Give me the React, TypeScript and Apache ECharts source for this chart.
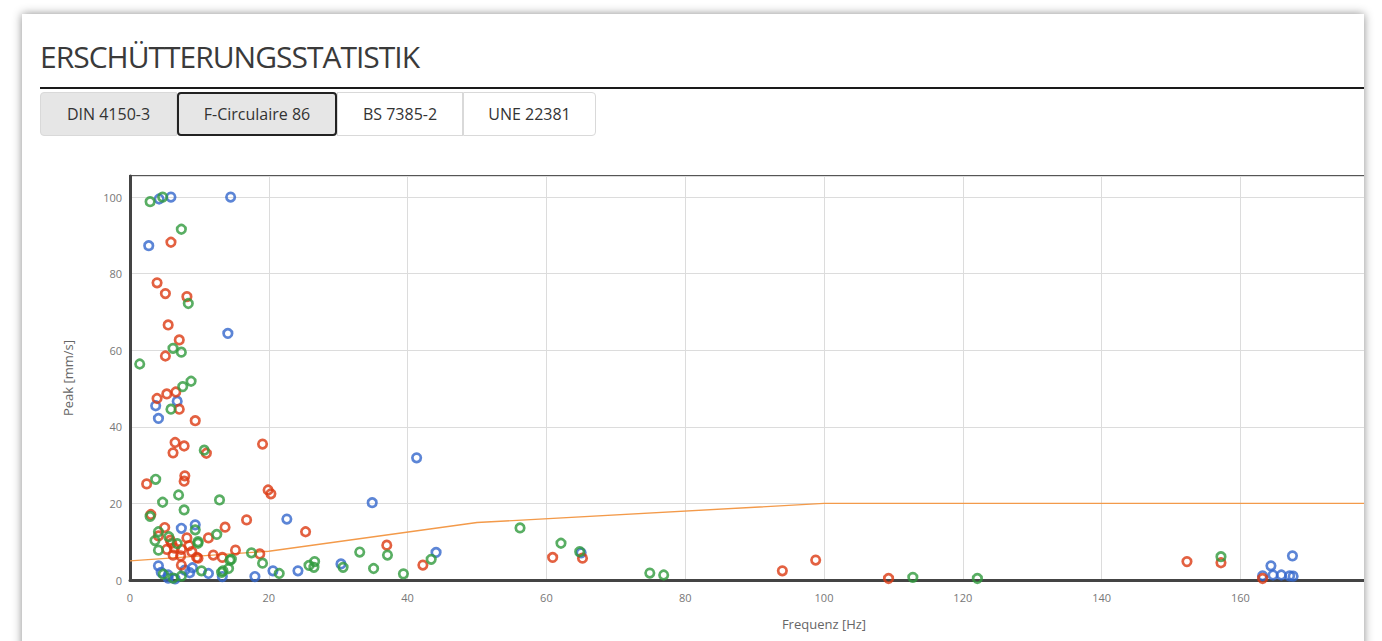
import React, { useEffect, useRef } from "react";
import * as echarts from "echarts";

// Frequenz [Hz], Peak [mm/s]
const seriesBlue: [number, number][] = [
  [4.2, 99.5], [5.9, 100], [14.5, 100], [2.7, 87.3], [14.1, 64.4], [3.7, 45.5], [6.8, 46.7], [4.1, 42.2],
  [41.3, 31.9], [34.9, 20.2], [22.6, 15.9], [7.4, 13.5], [9.4, 14.4], [4.1, 3.7], [5.5, 1.3], [5.5, 0.5],
  [8.6, 1.9], [7.9, 2.6], [11.3, 1.7], [13.3, 0.9], [18.0, 0.9], [20.6, 2.4], [24.2, 2.4], [30.4, 4.2],
  [44.1, 7.2], [65.0, 7.1], [163.2, 1.1], [164.4, 3.7], [164.7, 1.3], [165.9, 1.3], [167.1, 1.1],
  [167.5, 6.3], [167.6, 1.0], [6.5, 0.3], [9.0, 3.2], [4.5, 2.0],
];

const seriesRed: [number, number][] = [
  [5.9, 88.2], [3.9, 77.6], [5.1, 74.8], [8.2, 74.0], [5.5, 66.6], [7.1, 62.7], [5.1, 58.5], [6.6, 49.1],
  [5.3, 48.6], [3.9, 47.4], [7.1, 44.6], [9.4, 41.6], [6.5, 35.9], [7.8, 35.0], [6.2, 33.2], [11.0, 33.1],
  [19.1, 35.5], [2.4, 25.1], [7.9, 27.2], [7.8, 25.8], [19.9, 23.5], [20.3, 22.5], [3.0, 17.1], [16.8, 15.7],
  [5.0, 13.7], [13.7, 13.8], [11.3, 11.0], [25.3, 12.6], [4.1, 11.5], [5.8, 10.4], [8.2, 11.0], [5.3, 8.0],
  [6.4, 8.3], [7.4, 8.0], [8.9, 7.4], [6.2, 6.5], [7.3, 6.3], [9.6, 5.9], [9.8, 5.7], [12.0, 6.5],
  [13.3, 5.9], [15.2, 7.8], [18.7, 6.8], [7.4, 3.9], [37.0, 9.1], [42.2, 3.9], [60.9, 5.9], [65.2, 5.7],
  [94.0, 2.4], [98.8, 5.2], [109.3, 0.4], [152.3, 4.8], [157.2, 4.5], [163.2, 0.4], [6.0, 9.6], [8.5, 9.0],
];

const seriesGreen: [number, number][] = [
  [2.9, 98.8], [4.7, 100], [7.4, 91.6], [8.4, 72.2], [6.2, 60.5], [7.4, 59.5], [1.4, 56.4], [8.8, 51.9],
  [7.6, 50.5], [5.9, 44.6], [10.7, 33.9], [3.7, 26.3], [7.0, 22.2], [4.7, 20.3], [12.9, 20.9], [7.8, 18.3],
  [2.9, 16.6], [9.4, 13.1], [12.5, 11.9], [4.1, 12.6], [3.6, 10.3], [9.8, 10.0], [4.1, 7.8], [17.5, 7.1],
  [19.1, 4.4], [14.6, 5.4], [7.4, 1.0], [10.3, 2.4], [13.4, 2.4], [14.2, 3.0], [21.5, 1.7], [9.8, 9.6],
  [33.1, 7.3], [37.1, 6.5], [43.4, 5.4], [39.4, 1.6], [35.1, 3.0], [30.7, 3.3], [26.6, 4.8], [25.8, 3.8],
  [26.5, 3.3], [14.4, 5.2], [13.2, 2.0], [56.2, 13.6], [62.1, 9.6], [64.8, 7.4], [74.9, 1.8], [76.9, 1.3],
  [112.8, 0.7], [122.1, 0.4], [157.2, 6.1], [4.8, 1.5], [6.2, 0.5], [5.6, 11.3], [6.8, 9.5],
];

// F-Circulaire 86 limit curve
const limitFreq = [0, 20, 50, 100, 200];
const limitPeak = [5, 7.5, 15, 20, 20];

const tabLabels = ["DIN 4150-3", "F-Circulaire 86", "BS 7385-2", "UNE 22381"];
const tabWidths = [137, 160, 126, 133];

const FONT = "'Open Sans', 'Noto Sans', sans-serif";

function Chart() {
  const ref = useRef<HTMLDivElement>(null);
  useEffect(() => {
    if (!ref.current) return;
    const chart = echarts.init(ref.current, undefined, { renderer: "svg" });
    const pointSeries = (data: [number, number][], color: string) => ({
      type: "scatter",
      data,
      symbol: "circle",
      symbolSize: 8.5,
      itemStyle: { color: "transparent", borderColor: color, borderWidth: 2.7 },
      z: 3,
    });
    chart.setOption({
      animation: false,
      textStyle: { fontFamily: FONT },
      grid: {
        left: 108,
        top: 22,
        width: 1388,
        height: 404,
        show: true,
        borderColor: "#555",
        borderWidth: 2,
        backgroundColor: "transparent",
      },
      xAxis: {
        type: "value",
        min: 0,
        max: 200,
        interval: 20,
        name: "Frequenz [Hz]",
        nameLocation: "middle",
        nameGap: 37,
        nameTextStyle: { color: "#666", fontSize: 13, fontFamily: FONT },
        axisLine: { show: true, onZero: false, lineStyle: { color: "#444", width: 3 } },
        axisTick: { show: false },
        axisLabel: {
          color: "#777",
          fontSize: 11,
          margin: 12,
          fontFamily: FONT,
          // labels beyond 170 Hz fall outside the visible card
          formatter: (v: number) => (v <= 170 ? String(v) : ""),
        },
        splitLine: { show: true, lineStyle: { color: "#dcdcdc", width: 1 } },
      },
      yAxis: {
        type: "value",
        min: 0,
        max: 105.5,
        interval: 20,
        name: "Peak [mm/s]",
        nameLocation: "middle",
        nameGap: 56,
        nameTextStyle: { color: "#666", fontSize: 13, fontFamily: FONT },
        axisLine: { show: true, onZero: false, lineStyle: { color: "#444", width: 3 } },
        axisTick: { show: false },
        axisLabel: {
          color: "#777",
          fontSize: 11,
          margin: 8,
          fontFamily: FONT,
          formatter: (v: number) => (v % 20 === 0 ? String(v) : ""),
        },
        splitLine: { show: true, lineStyle: { color: "#dcdcdc", width: 1 } },
      },
      series: [
        {
          type: "line",
          data: limitFreq.map((f, i) => [f, limitPeak[i]]),
          showSymbol: false,
          symbol: "none",
          lineStyle: { color: "#f39a4a", width: 1.4 },
          z: 2,
        },
        pointSeries(seriesBlue, "#3366cc"),
        pointSeries(seriesRed, "#dc3912"),
        pointSeries(seriesGreen, "#2f9a3c"),
      ],
    });
    return () => chart.dispose();
  }, []);
  return <div ref={ref} style={{ position: "absolute", left: 0, top: 140, width: 1520, height: 500 }} />;
}

export default function App() {
  let x = 18;
  return (
    <div style={{ position: "absolute", left: 0, top: 0, width: 1382, height: 641, overflow: "hidden", background: "#fff" }}>
      <div
        style={{
          position: "absolute",
          left: 22,
          top: 14,
          width: 1342,
          height: 700,
          background: "#fff",
          boxShadow: "0 0 9px rgba(0,0,0,0.45)",
          overflow: "hidden",
          fontFamily: FONT,
        }}
      >
        <div
          style={{
            position: "absolute",
            left: 18,
            top: 25,
            fontSize: 30,
            lineHeight: "36px",
            color: "#3a3a3a",
            letterSpacing: -1,
            whiteSpace: "nowrap",
          }}
        >
          ERSCHÜTTERUNGSSTATISTIK
        </div>
        <div style={{ position: "absolute", left: 18, top: 73, width: 1324, height: 2, background: "#1a1a1a" }} />
        {tabLabels.map((label, i) => {
          const left = x;
          x += tabWidths[i];
          const active = i === 1;
          const grey = i <= 1;
          return (
            <div
              key={label}
              style={{
                position: "absolute",
                left,
                top: 78,
                width: tabWidths[i],
                height: 44,
                boxSizing: "border-box",
                background: grey ? "#e6e6e6" : "#fff",
                border: active ? "2px solid #222" : "1px solid #d9d9d9",
                borderRadius: active ? 4 : i === 0 ? "4px 0 0 4px" : i === 3 ? "0 4px 4px 0" : 0,
                display: "flex",
                alignItems: "center",
                justifyContent: "center",
                fontSize: 16,
                color: "#333",
                whiteSpace: "nowrap",
                zIndex: active ? 2 : 1,
              }}
            >
              {label}
            </div>
          );
        })}
        <Chart />
      </div>
    </div>
  );
}
